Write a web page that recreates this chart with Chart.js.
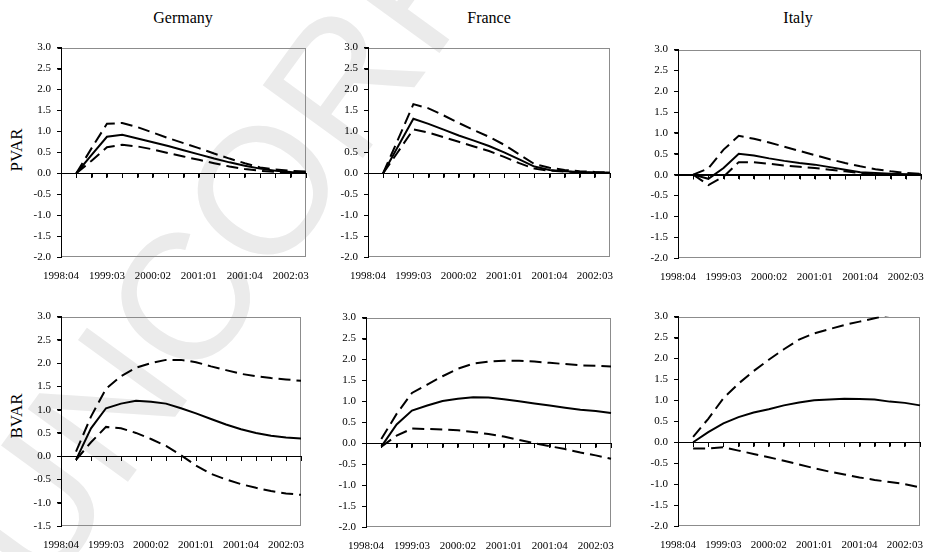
<!DOCTYPE html>
<html>
<head>
<meta charset="utf-8">
<script src="https://cdn.jsdelivr.net/npm/chart.js@4"></script>
<style>
  body { margin: 0; background: #fff; width: 932px; height: 552px; position: relative; overflow: hidden; font-family: "Liberation Serif", serif; color: #000; }
  .mark { position: absolute; left: 43px; top: 599px; font: 180px/1 "Liberation Sans", sans-serif; color: #ebebeb; white-space: nowrap; transform-origin: 0 0; transform: rotate(-54deg) translateY(-0.846em); }
  .ttl { position: absolute; font-size: 16px; transform: translate(-50%, -50%); white-space: nowrap; }
  .row { position: absolute; font-size: 17px; transform: translate(-50%, -50%) rotate(-90deg); white-space: nowrap; }
  canvas { position: absolute; }
</style>
</head>
<body>
<div class="mark">UNCORRECTED PROOF</div>
<div class="ttl" style="left:183px;top:18px">Germany</div>
<div class="ttl" style="left:489px;top:18px">France</div>
<div class="ttl" style="left:798px;top:18px">Italy</div>
<div class="row" style="left:17px;top:150px">PVAR</div>
<div class="row" style="left:17px;top:416px">BVAR</div>
<script>
const quarters = [
  '1998:04', '1999:01', '1999:02', '1999:03', '1999:04', '2000:01', '2000:02', '2000:03', '2000:04',
  '2001:01', '2001:02', '2001:03', '2001:04', '2002:01', '2002:02', '2002:03', '2002:04',
];
// every third quarter carries a label (1998:04 ... 2002:03)
const labelStep = 3;

// responses start one quarter after 1998:04
const deuPvarUp = [0, 0.6, 1.18, 1.2, 1.1, 0.97, 0.84, 0.72, 0.6, 0.47, 0.35, 0.24, 0.14, 0.09, 0.06, 0.04];
const deuPvarMid = [0, 0.44, 0.87, 0.92, 0.83, 0.74, 0.65, 0.55, 0.45, 0.35, 0.26, 0.18, 0.11, 0.06, 0.03, 0.02];
const deuPvarLo = [0, 0.3, 0.62, 0.68, 0.64, 0.57, 0.48, 0.4, 0.32, 0.24, 0.16, 0.1, 0.06, 0.03, 0.02, 0.01];

const fraPvarUp = [0, 0.82, 1.65, 1.55, 1.38, 1.2, 1.03, 0.87, 0.68, 0.45, 0.22, 0.13, 0.08, 0.05, 0.03, 0.02];
const fraPvarMid = [0, 0.65, 1.3, 1.18, 1.04, 0.9, 0.78, 0.65, 0.5, 0.33, 0.16, 0.08, 0.05, 0.03, 0.02, 0.01];
const fraPvarLo = [0, 0.52, 1.05, 0.97, 0.86, 0.75, 0.64, 0.53, 0.39, 0.24, 0.11, 0.06, 0.04, 0.02, 0.01, 0.01];

const itaPvarUp = [0, 0.15, 0.6, 0.93, 0.86, 0.77, 0.67, 0.57, 0.47, 0.37, 0.28, 0.2, 0.13, 0.08, 0.04, 0.02];
const itaPvarMid = [0, -0.1, 0.16, 0.5, 0.46, 0.39, 0.33, 0.28, 0.24, 0.18, 0.12, 0.06, 0.04, 0.02, 0.01, 0.01];
const itaPvarLo = [0, -0.25, -0.05, 0.3, 0.3, 0.26, 0.22, 0.19, 0.16, 0.12, 0.08, 0.04, 0.02, 0.01, 0, 0];

const deuBvarUp = [0.1, 0.85, 1.45, 1.72, 1.9, 2.0, 2.07, 2.07, 2.02, 1.93, 1.85, 1.77, 1.72, 1.68, 1.65, 1.62];
const deuBvarMid = [-0.08, 0.6, 1.03, 1.13, 1.19, 1.17, 1.13, 1.03, 0.92, 0.8, 0.68, 0.58, 0.5, 0.44, 0.4, 0.38];
const deuBvarLo = [-0.08, 0.3, 0.63, 0.6, 0.5, 0.37, 0.22, 0.02, -0.2, -0.38, -0.5, -0.6, -0.68, -0.75, -0.8, -0.83];

const fraBvarUp = [0.1, 0.7, 1.2, 1.4, 1.6, 1.78, 1.9, 1.95, 1.97, 1.97, 1.95, 1.92, 1.89, 1.86, 1.85, 1.83];
const fraBvarMid = [-0.08, 0.45, 0.78, 0.9, 1.01, 1.06, 1.1, 1.09, 1.05, 1.0, 0.95, 0.9, 0.85, 0.8, 0.77, 0.72];
const fraBvarLo = [-0.08, 0.18, 0.35, 0.34, 0.33, 0.31, 0.27, 0.22, 0.16, 0.08, 0, -0.07, -0.14, -0.22, -0.29, -0.37];

const itaBvarUp = [0.13, 0.56, 1.05, 1.4, 1.7, 1.97, 2.22, 2.45, 2.6, 2.7, 2.8, 2.88, 2.96, 3.04, 3.1, 3.16];
const itaBvarMid = [0, 0.24, 0.45, 0.6, 0.71, 0.79, 0.88, 0.95, 1.0, 1.02, 1.04, 1.03, 1.02, 0.97, 0.94, 0.88];
const itaBvarLo = [-0.15, -0.15, -0.12, -0.2, -0.28, -0.36, -0.44, -0.53, -0.62, -0.7, -0.77, -0.84, -0.9, -0.95, -1.0, -1.08];

const yMaxAll = 3;
const yMinDeuBvar = -1.5;
const yMinOther = -2;

const tickFont = { family: 'Liberation Serif', size: 11 };
Chart.defaults.color = '#000';

const YW = 45, XH = 30, PT = 8, PR = 6, TL = 4;

// grey plot frame, then black tick marks on the y axis and on the zero line
const frame = {
  id: 'frame',
  beforeDraw(chart) {
    const { ctx, chartArea: a } = chart;
    ctx.save();
    ctx.strokeStyle = '#8c8c8c';
    ctx.lineWidth = 1;
    ctx.strokeRect(Math.round(a.left) + 0.5, Math.round(a.top) + 0.5, Math.round(a.width) - 1, Math.round(a.height) - 1);
    ctx.restore();
  },
  afterDraw(chart) {
    const { ctx, scales: { x, y } } = chart;
    const y0 = Math.round(y.getPixelForValue(0)) + 0.5;
    const left = Math.round(y.right) + 0.5;
    ctx.save();
    ctx.strokeStyle = '#000';
    ctx.lineWidth = 1;
    ctx.beginPath();
    ctx.moveTo(left, chart.chartArea.top);
    ctx.lineTo(left, chart.chartArea.bottom);
    ctx.moveTo(chart.chartArea.left, y0);
    ctx.lineTo(chart.chartArea.right, y0);
    for (let i = 0; i < quarters.length; i++) {
      const px = Math.round(x.getPixelForValue(i)) + 0.5;
      ctx.moveTo(px, y0);
      ctx.lineTo(px, y0 + TL);
    }
    y.ticks.forEach((t) => {
      const py = Math.round(y.getPixelForValue(t.value)) + 0.5;
      ctx.moveTo(left - TL, py);
      ctx.lineTo(left, py);
    });
    ctx.stroke();
    ctx.restore();
  },
};

function line(values, dashed) {
  return {
    data: [null, ...values],
    borderColor: '#000',
    borderWidth: 2,
    borderDash: dashed ? [12, 6] : [],
    pointRadius: 0,
    tension: 0,
    fill: false,
  };
}

function panel(rect, yMin, up, mid, lo) {
  const canvas = document.createElement('canvas');
  canvas.width = rect.r - rect.l + YW + PR;
  canvas.height = rect.b - rect.t + PT + XH;
  canvas.style.left = (rect.l - YW) + 'px';
  canvas.style.top = (rect.t - PT) + 'px';
  document.body.appendChild(canvas);

  new Chart(canvas, {
    type: 'line',
    data: {
      labels: quarters,
      datasets: [line(up, true), line(mid, false), line(lo, true)],
    },
    plugins: [frame],
    options: {
      responsive: false,
      animation: false,
      events: [],
      layout: { padding: { top: PT, right: PR, left: 0, bottom: 0 } },
      plugins: { legend: { display: false }, tooltip: { enabled: false } },
      scales: {
        y: {
          min: yMin,
          max: yMaxAll,
          position: 'left',
          afterFit(s) { s.width = YW; },
          ticks: { stepSize: 0.5, padding: 6, font: tickFont, callback: (v) => v.toFixed(1) },
          grid: { drawOnChartArea: false, tickLength: TL, tickColor: '#000' },
          border: { color: '#000', width: 1 },
        },
        x: {
          type: 'category',
          position: { y: 0 },
          offset: false,
          ticks: { display: false },
          grid: { drawOnChartArea: false, tickLength: TL, tickColor: '#000' },
          border: { color: '#000', width: 1 },
        },
        xl: {
          type: 'category',
          position: 'bottom',
          offset: false,
          afterFit(s) { s.height = XH; },
          grid: { display: false, drawTicks: false },
          border: { display: false },
          ticks: {
            autoSkip: false,
            maxRotation: 0,
            padding: 13,
            font: tickFont,
            callback: (v, i) => (i % labelStep === 0 && i < quarters.length - 1 ? quarters[i] : ''),
          },
        },
      },
    },
  });
}

panel({ l: 61, t: 43, r: 313, b: 257 }, yMinOther, deuPvarUp, deuPvarMid, deuPvarLo);
panel({ l: 368, t: 43, r: 617, b: 257 }, yMinOther, fraPvarUp, fraPvarMid, fraPvarLo);
panel({ l: 678, t: 45, r: 928, b: 258 }, yMinOther, itaPvarUp, itaPvarMid, itaPvarLo);
panel({ l: 61, t: 312, r: 308, b: 526 }, yMinDeuBvar, deuBvarUp, deuBvarMid, deuBvarLo);
panel({ l: 366, t: 313, r: 618, b: 527 }, yMinOther, fraBvarUp, fraBvarMid, fraBvarLo);
panel({ l: 678, t: 312, r: 927, b: 526 }, yMinOther, itaBvarUp, itaBvarMid, itaBvarLo);
</script>
</body>
</html>
